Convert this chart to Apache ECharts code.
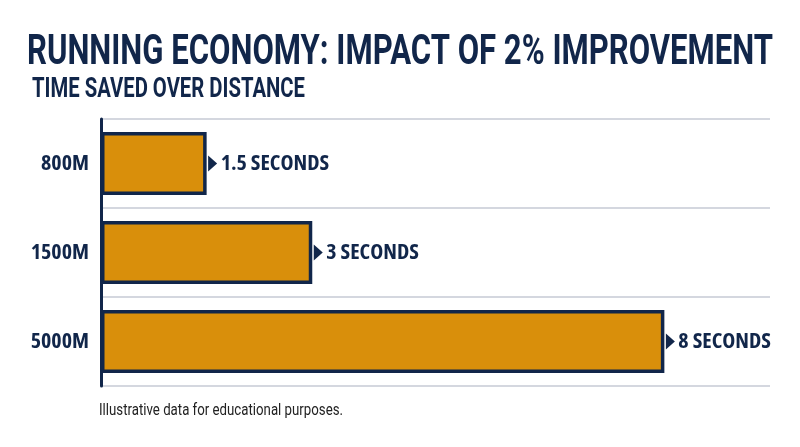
<!DOCTYPE html>
<html><head><meta charset="utf-8">
<script src="https://cdn.jsdelivr.net/npm/echarts@6/dist/echarts.min.js"></script>
<style>html,body{margin:0;padding:0;background:#fff}#c{width:800px;height:447px}</style>
</head><body><div id="c"></div>
<script>
const categories = ['800M', '1500M', '5000M'];
const secondsSaved = [1.5, 3, 8];
const valueLabels = ['1.5 SECONDS', '3 SECONDS', '8 SECONDS'];
const titleText = 'RUNNING ECONOMY: IMPACT OF 2% IMPROVEMENT';
const subtitleText = 'TIME SAVED OVER DISTANCE';
const noteText = 'Illustrative data for educational purposes.';

const NAVY = '#11264a', GOLD = '#d98f0b', GRID = '#c6cad4';

const mctx = document.createElement('canvas').getContext('2d');
function measure(font, text) { mctx.font = font; return mctx.measureText(text).width; }
function fitScale(text, font, target) { return target / measure(font, text); }

// pick the narrowest available bold face (condensed width axis if the font has one)
function pickCondensed() {
  const sample = '8 SECONDS 1500M';
  let best = { weight: 'bold', family: 'Roboto' };
  let bw = measure('bold 100px Roboto', sample);
  const fams = ["'Noto Sans'", "'Open Sans'", 'Roboto', "'Roboto Condensed'", "'DejaVu Sans Condensed'", "'Liberation Sans Narrow'"];
  const stretches = ['extra-condensed', 'condensed', 'semi-condensed', ''];
  for (const f of fams) for (const s of stretches) {
    const w8 = (s ? s + ' ' : '') + 'bold';
    const font = w8 + ' 100px ' + f;
    mctx.font = '10px serif';
    mctx.font = font;
    if (mctx.font.indexOf('100px') < 0) continue;
    const w = mctx.measureText(sample).width;
    if (w < bw * 0.97 && w > bw * 0.5) { bw = w; best = { weight: w8, family: f }; }
  }
  best.widthPerPx = measure(best.weight + ' 100px ' + best.family, '8 SECONDS') / 100;
  return best;
}
const cond = pickCondensed();
// size: cap height ~16px, but not much wider than the reference label (~95px for "8 SECONDS")
const labelSize = Math.min(22, Math.round(102 / cond.widthPerPx));

const titleFont = 'bold 42px Roboto';
const subFont = 'bold 27px Roboto';
const noteFont = '16px Roboto';

const chart = echarts.init(document.getElementById('c'));
chart.setOption({
  backgroundColor: '#fff',
  animation: false,
  graphic: [
    { type: 'text', x: 27, y: 53, scaleX: fitScale(titleText, titleFont, 746),
      style: { text: titleText, font: titleFont, fill: NAVY, verticalAlign: 'middle' } },
    { type: 'text', x: 32, y: 90, scaleX: fitScale(subtitleText, subFont, 273),
      style: { text: subtitleText, font: subFont, fill: NAVY, verticalAlign: 'middle' } },
    { type: 'text', x: 99, y: 411, scaleX: fitScale(noteText, noteFont, 244),
      style: { text: noteText, font: noteFont, fill: '#222', verticalAlign: 'middle' } }
  ],
  grid: { left: 101, right: 30, top: 119, bottom: 61, containLabel: false },
  xAxis: { type: 'value', min: 0, max: 9.5, show: false },
  yAxis: {
    type: 'category', data: categories, inverse: true,
    axisLine: { lineStyle: { color: NAVY, width: 3 } },
    axisTick: { show: false },
    splitLine: { show: true, lineStyle: { color: GRID, width: 1.5 } },
    axisLabel: { margin: 12, color: NAVY, fontFamily: cond.family, fontWeight: cond.weight, fontSize: labelSize }
  },
  series: [
    { type: 'bar', data: secondsSaved, barWidth: 63,
      itemStyle: { color: GOLD, borderColor: NAVY, borderWidth: 3.5 },
      label: { show: true, position: 'right', distance: 14,
        formatter: p => valueLabels[p.dataIndex],
        color: NAVY, fontFamily: cond.family, fontWeight: cond.weight, fontSize: labelSize } },
    { type: 'scatter', data: secondsSaved.map((v, i) => [v, i]),
      symbol: 'triangle', symbolSize: [16, 9], symbolRotate: -90, symbolOffset: [6, 0],
      itemStyle: { color: NAVY, opacity: 1 }, z: 5 }
  ]
});
</script></body></html>
